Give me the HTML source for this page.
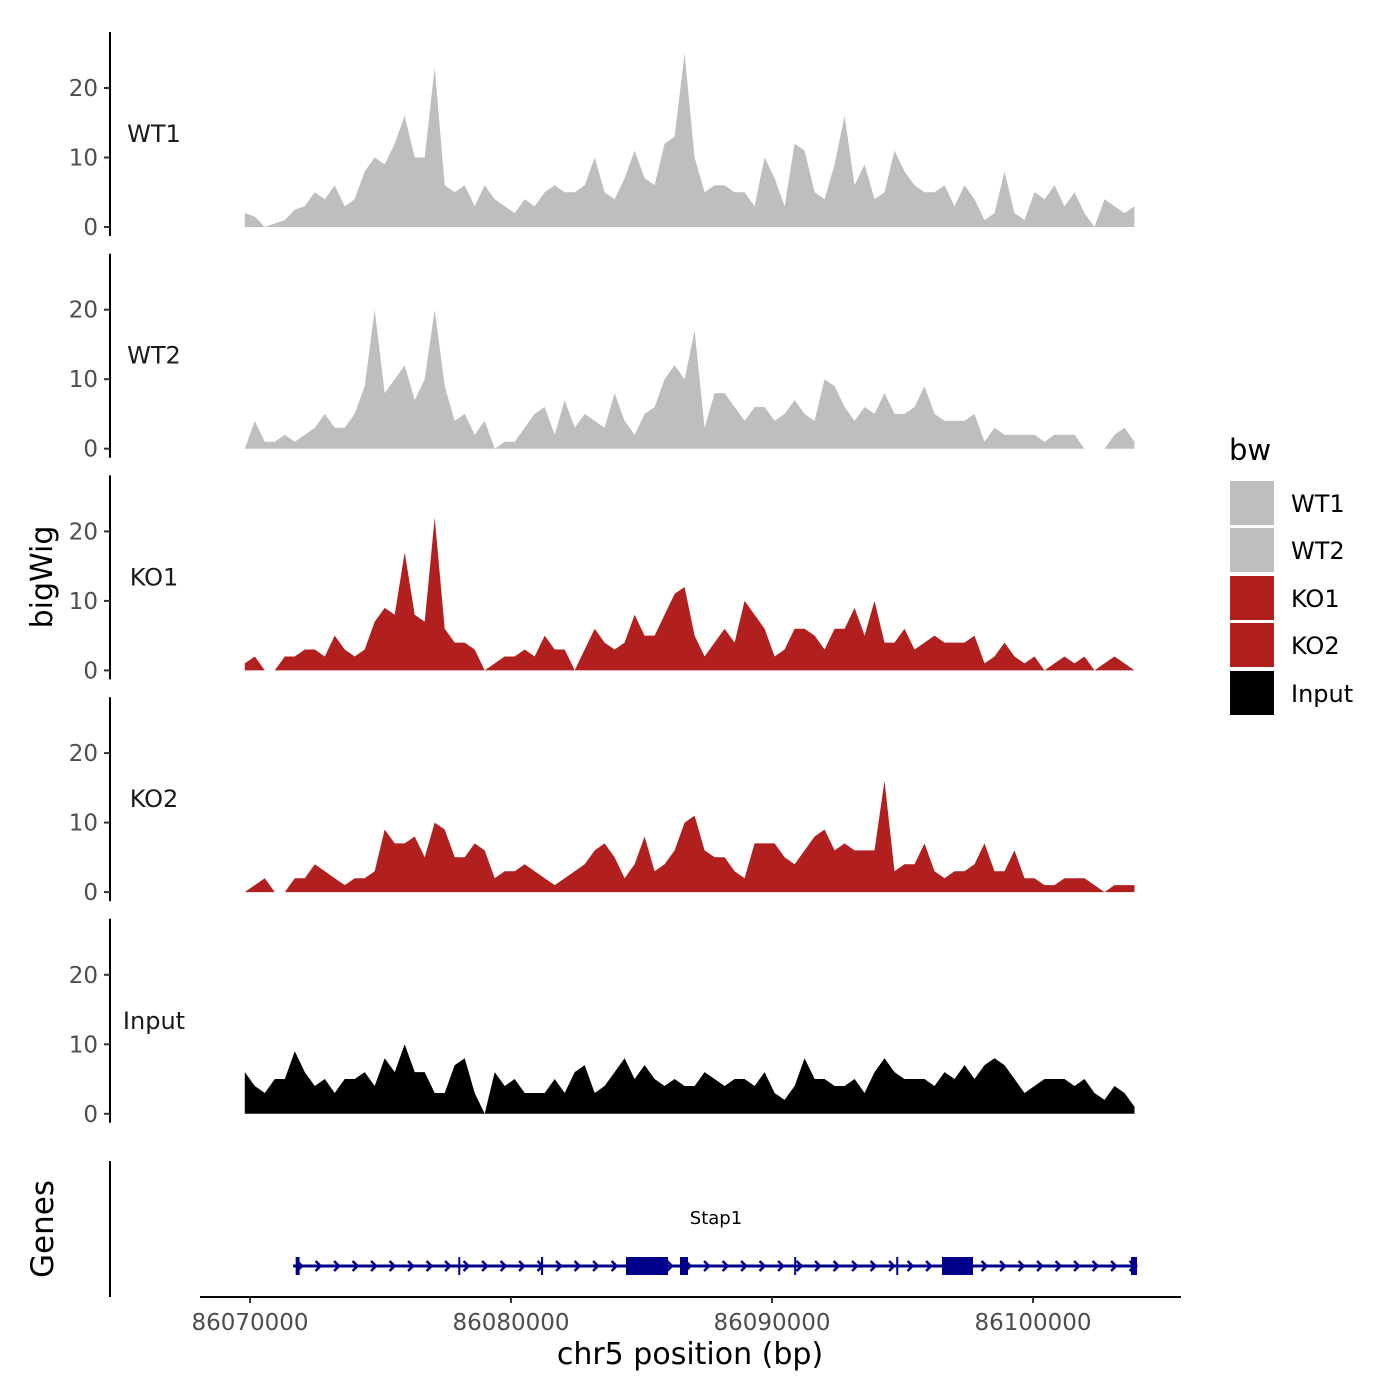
<!DOCTYPE html>
<html><head><meta charset="utf-8"><style>
body{margin:0;background:#fff;}
svg{display:block;font-family:"DejaVu Sans","Liberation Sans",sans-serif;}
</style></head><body>
<svg id="chart" width="1400" height="1400" viewBox="0 0 1400 1400">
<rect width="1400" height="1400" fill="#fff"/>
<g id="tracks"></g>
<g id="genes"></g>
<g>
<line x1="200" y1="1297" x2="1181" y2="1297" stroke="#000" stroke-width="2"/>
<g id="xticks"></g>
<text x="690" y="1364" text-anchor="middle" font-size="30">chr5 position (bp)</text>
</g>
<text transform="translate(52,577) rotate(-90)" text-anchor="middle" font-size="30">bigWig</text>
<text transform="translate(53,1229) rotate(-90)" text-anchor="middle" font-size="31">Genes</text>
<line x1="110" y1="1161" x2="110" y2="1297" stroke="#000" stroke-width="2"/>
<g>
<text x="1229" y="460" font-size="29">bw</text>
<g id="legend"></g>
</g>
</svg>
<script>
const trackNames = ["WT1","WT2","KO1","KO2","Input"];
const trackColors = ["#bebebe","#bebebe","#b21f1f","#b21f1f","#000000"];
const startBp = 86069800;
const stepBp = 383;
const wt1 = [2,1.5,0,0.5,1,2.5,3,5,4,6,3,4,8,10,9,12,16,10,10,23,6,5,6,3,6,4,3,2,4,3,5,6,5,5,6,10,5,4,7,11,7,6,12,13,25,10,5,6,6,5,5,3,10,7,3,12,11,5,4,9,16,6,9,4,5,11,8,6,5,5,6,3,6,4,1,2,8,2,1,5,4,6,3,5,2,0,4,3,2,3];
const wt2 = [0,4,1,1,2,1,2,3,5,3,3,5,9,20,8,10,12,7,10,20,9,4,5,2,4,0,1,1,3,5,6,2,7,3,5,4,3,8,4,2,5,6,10,12,10,17,3,8,8,6,4,6,6,4,5,7,5,4,10,9,6,4,6,5,8,5,5,6,9,5,4,4,4,5,1,3,2,2,2,2,1,2,2,2,0,0,0,2,3,1];
const ko1 = [1,2,0,0,2,2,3,3,2,5,3,2,3,7,9,8,17,8,7,22,6,4,4,3,0,1,2,2,3,2,5,3,3,0,3,6,4,3,4,8,5,5,8,11,12,5,2,4,6,4,10,8,6,2,3,6,6,5,3,6,6,9,5,10,4,4,6,3,4,5,4,4,4,5,1,2,4,2,1,2,0,1,2,1,2,0,1,2,1,0];
const ko2 = [0,1,2,0,0,2,2,4,3,2,1,2,2,3,9,7,7,8,5,10,9,5,5,7,6,2,3,3,4,3,2,1,2,3,4,6,7,5,2,4,8,3,4,6,10,11,6,5,5,3,2,7,7,7,5,4,6,8,9,6,7,6,6,6,16,3,4,4,7,3,2,3,3,4,7,3,3,6,2,2,1,1,2,2,2,1,0,1,1,1];
const input = [6,4,3,5,5,9,6,4,5,3,5,5,6,4,8,6,10,6,6,3,3,7,8,3,0,6,4,5,3,3,3,5,3,6,7,3,4,6,8,5,7,5,4,5,4,4,6,5,4,5,5,4,6,3,2,4,8,5,5,4,4,5,3,6,8,6,5,5,5,4,6,5,7,5,7,8,7,5,3,4,5,5,5,4,5,3,2,4,3,1];
const series = [wt1,wt2,ko1,ko2,input];
const yTicks = [0,10,20];
const xTicks = [86070000,86080000,86090000,86100000];
const geneStart = 86071650, geneEnd = 86104000;
const exonStarts = [86071750,86077980,86081150,86084406,86086475,86090850,86094760,86096513,86103755];
const exonEnds   = [86071900,86078040,86081230,86086015,86086782,86090920,86094820,86097701,86103985];

const NS="http://www.w3.org/2000/svg";
function mk(t,a,p){const e=document.createElementNS(NS,t);for(const k in a)e.setAttribute(k,a[k]);p.appendChild(e);return e;}
function xs(bp){return 250+(bp-86070000)*0.0261;}
const pxPerUnit=6.95, base0=227, pitch=221.7;
function ys(v,i){return base0+i*pitch - v*pxPerUnit;}

const tracks=document.getElementById('tracks');
series.forEach((vals,i)=>{
  const g=mk('g',{},tracks);
  
  
  const b=base0+i*pitch;
  const ax=mk('line',{x1:110,y1:b-195,x2:110,y2:b+9,stroke:'#000','stroke-width':2},g);
  
  
  yTicks.forEach(t=>{
    const y=ys(t,i);
    mk('line',{x1:104,y1:y,x2:110,y2:y,stroke:'#333','stroke-width':2},g);
    const tx=mk('text',{x:98,y:y+8,'text-anchor':'end','font-size':23,fill:'#4d4d4d'},g);
    tx.textContent=t;
    
    
  });
  const lb=mk('text',{x:154,y:b-85,'text-anchor':'middle','font-size':24,fill:'#1a1a1a'},g);
  lb.textContent=trackNames[i];
  
  
  let seg=[];
  const segs=[];
  vals.forEach((v,k)=>{
    if(v===null){if(seg.length)segs.push(seg);seg=[];}
    else seg.push([xs(startBp+k*stepBp),ys(v,i)]);
  });
  if(seg.length)segs.push(seg);
  segs.forEach(s=>{
    let d='M'+s[0][0]+','+b;
    s.forEach(p=>d+='L'+p[0].toFixed(1)+','+p[1].toFixed(1));
    d+='L'+s[s.length-1][0]+','+b+'Z';
    const pa=mk('path',{d:d,fill:trackColors[i]},g);
    
    
  });
});

const xt=document.getElementById('xticks');
xTicks.forEach(t=>{
  const x=xs(t);
  mk('line',{x1:x,y1:1297,x2:x,y2:1303,stroke:'#333','stroke-width':2},xt);
  const tx=mk('text',{x:x,y:1330,'text-anchor':'middle','font-size':23,fill:'#4d4d4d'},xt);
  tx.textContent=t;
  
  
});

const gg=document.getElementById('genes');
const gy=1266;
mk('line',{x1:xs(geneStart),y1:gy,x2:xs(geneEnd),y2:gy,stroke:'#00008b','stroke-width':3},gg);
for(let x=xs(geneStart)+4;x<xs(geneEnd)-6;x+=18.5){
  mk('path',{d:`M${x},${gy-5}L${x+5},${gy}L${x},${gy+5}`,fill:'none',stroke:'#00008b','stroke-width':2.5},gg);
}
exonStarts.forEach((s,k)=>{
  const x1=xs(s),x2=xs(exonEnds[k]);
  const r=mk('rect',{x:x1,y:gy-9,width:Math.max(2,x2-x1),height:18,fill:'#00008b'},gg);
  
  
});
const gl=mk('text',{x:716,y:1224,'text-anchor':'middle','font-size':18,fill:'#000'},gg);
gl.textContent='Stap1';



const lg=document.getElementById('legend');
const legY=[481,528,576,623,671];
trackNames.forEach((n,i)=>{
  const r=mk('rect',{x:1230,y:legY[i],width:44,height:44,fill:trackColors[i]},lg);
  
  
  const t=mk('text',{x:1291,y:legY[i]+31,'font-size':24,fill:'#000'},lg);
  t.textContent=n;
  
  
});
</script>
</body></html>
